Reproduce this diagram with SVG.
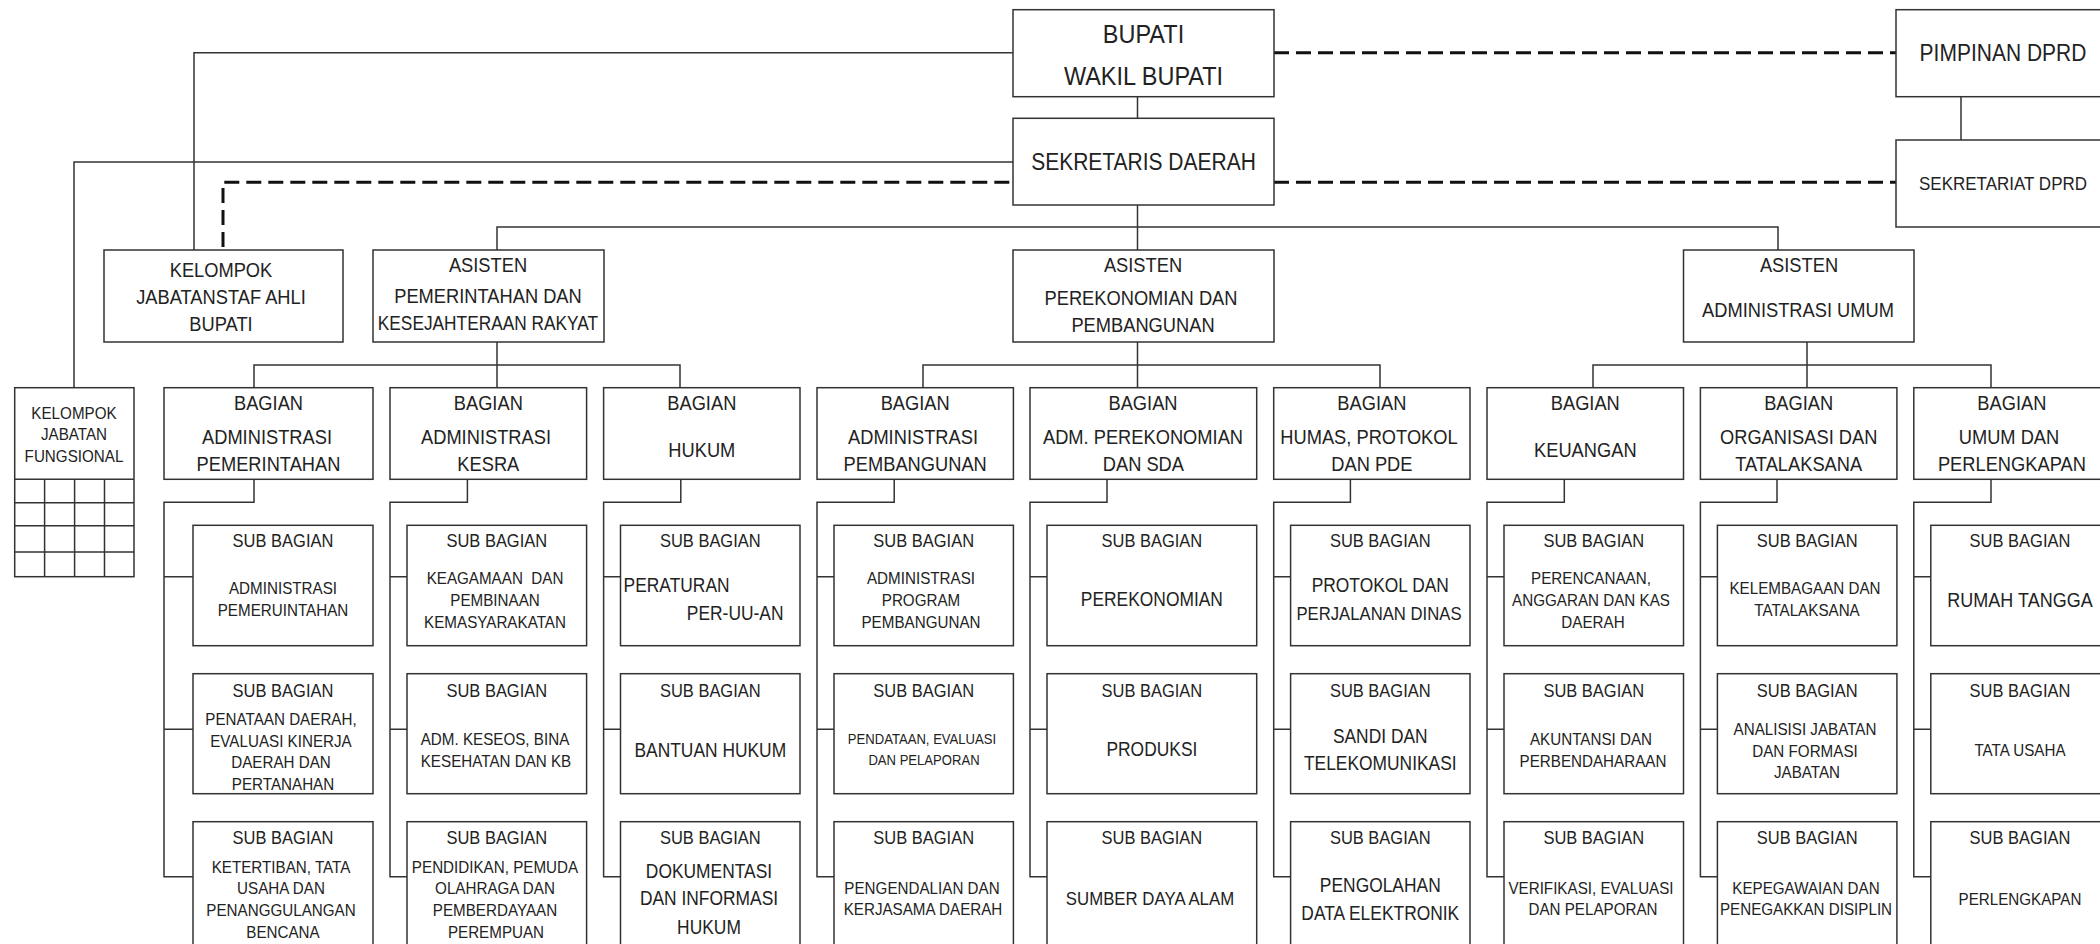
<svg xmlns="http://www.w3.org/2000/svg" width="2100" height="944" viewBox="0 0 2100 944">
<style>
.box{fill:#fff;stroke:#333;stroke-width:1.5}
.ln{fill:none;stroke:#333;stroke-width:1.5}
.dash{fill:none;stroke:#111;stroke-width:3;stroke-dasharray:15 7}
text{font-family:"Liberation Sans",Arial,sans-serif;fill:#222;text-anchor:middle;transform-box:fill-box;transform-origin:50% 50%;transform:scaleY(1.12)}
.f24{font-size:23.5px}.f21{font-size:21px}.f18{font-size:18.3px}.f17{font-size:17.4px}.f16{font-size:16.5px}.f15{font-size:15.2px}.f13{font-size:13.1px}
.st{text-anchor:start}.en{text-anchor:end}
</style>
<rect width="2100" height="944" fill="#fff"/>
<g id="connectors">
<path class="ln" d="M194 250V52.7H1013"/>
<path class="ln" d="M74 387.7V162H1013"/>
<path class="ln" d="M1137.5 96.7V118.3"/>
<path class="ln" d="M1137.5 205V250"/>
<path class="ln" d="M497 250V227H1778V250"/>
<path class="ln" d="M1961 96.7V140"/>
<path class="dash" d="M223 247V182.3H1013"/>
<path class="dash" d="M1274 182.3H1896"/>
<path class="dash" d="M1274 52.7H1896"/>
<path class="ln" d="M497 342V387.7M254 387.7V365H680V387.7"/>
<path class="ln" d="M1137.5 342V387.7M923 387.7V365H1380V387.7"/>
<path class="ln" d="M1807 342V387.7M1593 387.7V365H1991V387.7"/>
<path class="ln" d="M254 479.3V502.3H164V876.7H193M164 576.7H193M164 729.3H193"/>
<path class="ln" d="M467.4 479.3V502.3H390V876.7H407M390 576.7H407M390 729.3H407"/>
<path class="ln" d="M680.8 479.3V502.3H603.6V876.7H620.5M603.6 576.7H620.5M603.6 729.3H620.5"/>
<path class="ln" d="M894.2 479.3V502.3H817V876.7H834M817 576.7H834M817 729.3H834"/>
<path class="ln" d="M1107 479.3V502.3H1030V876.7H1047M1030 576.7H1047M1030 729.3H1047"/>
<path class="ln" d="M1350.4 479.3V502.3H1273.7V876.7H1290.6M1273.7 576.7H1290.6M1273.7 729.3H1290.6"/>
<path class="ln" d="M1564.3 479.3V502.3H1487V876.7H1504M1487 576.7H1504M1487 729.3H1504"/>
<path class="ln" d="M1777 479.3V502.3H1700.4V876.7H1717.4M1700.4 576.7H1717.4M1700.4 729.3H1717.4"/>
<path class="ln" d="M1991 479.3V502.3H1913.8V876.7H1930.8M1913.8 576.7H1930.8M1913.8 729.3H1930.8"/>
</g>

<g id="bupati"><rect class="box" x="1013" y="9.7" width="261" height="87"/>
<text class="f24" x="1143.5" y="41.5">BUPATI</text><text class="f24" x="1143.5" y="83.8">WAKIL BUPATI</text></g>
<g id="sekda"><rect class="box" x="1013" y="118.3" width="261" height="86.7"/>
<text class="f21" x="1143.5" y="169.6">SEKRETARIS DAERAH</text></g>
<g id="pimpinan-dprd"><rect class="box" x="1896" y="9.7" width="214" height="87"/>
<text class="f21" x="2003" y="60.4">PIMPINAN DPRD</text></g>
<g id="sekretariat-dprd"><rect class="box" x="1896" y="140" width="214" height="87"/>
<text x="2003" y="189.8" style="font-size:17px">SEKRETARIAT DPRD</text></g>

<g id="staf-ahli"><rect class="box" x="104" y="250" width="239" height="92"/>
<text class="f18" x="221" y="275.8">KELOMPOK</text><text class="f18" x="221" y="303.2">JABATANSTAF AHLI</text><text class="f18" x="221" y="329.8">BUPATI</text></g>
<g id="asisten-pem"><rect class="box" x="373" y="250" width="231" height="92"/>
<text class="f18" x="488" y="271.5">ASISTEN</text><text class="f18" x="488" y="302.5">PEMERINTAHAN DAN</text><text x="488" y="329.5" style="font-size:17.3px">KESEJAHTERAAN RAKYAT</text></g>
<g id="asisten-perek"><rect class="box" x="1013" y="250" width="261" height="92"/>
<text class="f18" x="1143" y="271.5">ASISTEN</text><text class="f18" x="1141" y="304.2">PEREKONOMIAN DAN</text><text class="f18" x="1143" y="331.5">PEMBANGUNAN</text></g>
<g id="asisten-umum"><rect class="box" x="1683.5" y="250" width="230.5" height="92"/>
<text class="f18" x="1799" y="271.5">ASISTEN</text><text class="f18" x="1798" y="316.5">ADMINISTRASI UMUM</text></g>

<g id="jabatan-fungsional"><rect class="box" x="14.7" y="387.7" width="119.3" height="189"/>
<path class="ln" d="M14.7 479.3H134M14.7 502.7H134M14.7 525.7H134M14.7 552H134M44.6 479.3V576.7M74.6 479.3V576.7M104.5 479.3V576.7"/>
<text class="f15" x="74" y="418.2">KELOMPOK</text><text class="f15" x="74" y="439.5">JABATAN</text><text class="f15" x="74" y="461.5">FUNGSIONAL</text></g>

<g id="bagian-adm-pem"><rect class="box" x="164" y="387.7" width="209" height="91.6"/>
<text class="f18" x="268.5" y="409.6">BAGIAN</text><text class="f18" x="267" y="443.3">ADMINISTRASI</text><text class="f18" x="268.5" y="469.9">PEMERINTAHAN</text></g>
<g id="bagian-kesra"><rect class="box" x="390" y="387.7" width="196.6" height="91.6"/>
<text class="f18" x="488.3" y="409.6">BAGIAN</text><text class="f18" x="486" y="443.3">ADMINISTRASI</text><text class="f18" x="488.3" y="469.9">KESRA</text></g>
<g id="bagian-hukum"><rect class="box" x="603.6" y="387.7" width="196.4" height="91.6"/>
<text class="f18" x="701.8" y="409.6">BAGIAN</text><text class="f18" x="701.8" y="456.6">HUKUM</text></g>
<g id="bagian-pembangunan"><rect class="box" x="817" y="387.7" width="196.4" height="91.6"/>
<text class="f18" x="915.2" y="409.6">BAGIAN</text><text class="f18" x="913" y="443.3">ADMINISTRASI</text><text class="f18" x="915.2" y="469.9">PEMBANGUNAN</text></g>
<g id="bagian-perekonomian"><rect class="box" x="1030" y="387.7" width="226.7" height="91.6"/>
<text class="f18" x="1143" y="409.6">BAGIAN</text><text class="f18" x="1143" y="443.3">ADM. PEREKONOMIAN</text><text class="f18" x="1143.4" y="469.9">DAN SDA</text></g>
<g id="bagian-humas"><rect class="box" x="1273.7" y="387.7" width="196.3" height="91.6"/>
<text class="f18" x="1371.9" y="409.6">BAGIAN</text><text class="f18" x="1369" y="443.3">HUMAS, PROTOKOL</text><text class="f18" x="1371.9" y="469.9">DAN PDE</text></g>
<g id="bagian-keuangan"><rect class="box" x="1487" y="387.7" width="196.5" height="91.6"/>
<text class="f18" x="1585.3" y="409.6">BAGIAN</text><text class="f18" x="1585.3" y="456.6">KEUANGAN</text></g>
<g id="bagian-organisasi"><rect class="box" x="1700.4" y="387.7" width="196.5" height="91.6"/>
<text class="f18" x="1798.7" y="409.6">BAGIAN</text><text class="f18" x="1798.7" y="443.3">ORGANISASI DAN</text><text class="f18" x="1798.7" y="469.9">TATALAKSANA</text></g>
<g id="bagian-umum"><rect class="box" x="1913.8" y="387.7" width="196.2" height="91.6"/>
<text class="f18" x="2011.9" y="409.6">BAGIAN</text><text class="f18" x="2009" y="443.3">UMUM DAN</text><text class="f18" x="2011.9" y="469.9">PERLENGKAPAN</text></g>

<g id="sub-adm-pem-1"><rect class="box" x="193" y="525.3" width="180" height="120.4"/>
<text class="f16" x="283" y="545.9">SUB BAGIAN</text><text class="f15" x="283" y="593.8">ADMINISTRASI</text><text class="f15" x="283" y="615.5">PEMERUINTAHAN</text></g>
<g id="sub-adm-pem-2"><rect class="box" x="193" y="673.7" width="180" height="120"/>
<text class="f16" x="283" y="695.9">SUB BAGIAN</text><text class="f15" x="281" y="724.8">PENATAAN DAERAH,</text><text class="f15" x="281" y="746.2">EVALUASI KINERJA</text><text class="f15" x="281" y="767.8">DAERAH DAN</text><text class="f15" x="283" y="789.5">PERTANAHAN</text></g>
<g id="sub-adm-pem-3"><rect class="box" x="193" y="821.7" width="180" height="125"/>
<text class="f16" x="283" y="843.2">SUB BAGIAN</text><text class="f15" x="281" y="872.2">KETERTIBAN, TATA</text><text class="f15" x="281" y="893.8">USAHA DAN</text><text class="f15" x="281" y="915.5">PENANGGULANGAN</text><text class="f15" x="283" y="937.2">BENCANA</text></g>

<g id="sub-kesra-1"><rect class="box" x="407" y="525.3" width="179.6" height="120.4"/>
<text class="f16" x="496.8" y="545.9">SUB BAGIAN</text><text class="f15" x="495" y="583.8" xml:space="preserve">KEAGAMAAN  DAN</text><text class="f15" x="495" y="605.5">PEMBINAAN</text><text class="f15" x="495" y="627.2">KEMASYARAKATAN</text></g>
<g id="sub-kesra-2"><rect class="box" x="407" y="673.7" width="179.6" height="120"/>
<text class="f16" x="496.8" y="695.9">SUB BAGIAN</text><text class="f15" x="495" y="744.8">ADM. KESEOS, BINA</text><text class="f15" x="496" y="766.2">KESEHATAN DAN KB</text></g>
<g id="sub-kesra-3"><rect class="box" x="407" y="821.7" width="179.6" height="125"/>
<text class="f16" x="496.8" y="843.2">SUB BAGIAN</text><text class="f15" x="495" y="872.2">PENDIDIKAN, PEMUDA</text><text class="f15" x="495" y="893.8">OLAHRAGA DAN</text><text class="f15" x="495" y="915.5">PEMBERDAYAAN</text><text class="f15" x="496" y="937.2">PEREMPUAN</text></g>

<g id="sub-hukum-1"><rect class="box" x="620.5" y="525.3" width="179.5" height="120.4"/>
<text class="f16" x="710.3" y="545.9">SUB BAGIAN</text><text class="f17 st" x="623.6" y="591.3">PERATURAN</text><text class="f17 en" x="783.5" y="619">PER-UU-AN</text></g>
<g id="sub-hukum-2"><rect class="box" x="620.5" y="673.7" width="179.5" height="120"/>
<text class="f16" x="710.3" y="695.9">SUB BAGIAN</text><text class="f17" x="710.3" y="756.3">BANTUAN HUKUM</text></g>
<g id="sub-hukum-3"><rect class="box" x="620.5" y="821.7" width="179.5" height="125"/>
<text class="f16" x="710.3" y="843.2">SUB BAGIAN</text><text class="f17" x="709" y="877">DOKUMENTASI</text><text class="f17" x="709" y="904.6">DAN INFORMASI</text><text class="f17" x="709" y="933">HUKUM</text></g>

<g id="sub-pembangunan-1"><rect class="box" x="834" y="525.3" width="179.4" height="120.4"/>
<text class="f16" x="923.7" y="545.9">SUB BAGIAN</text><text class="f15" x="921" y="583.8">ADMINISTRASI</text><text class="f15" x="921" y="605.5">PROGRAM</text><text class="f15" x="921" y="627.2">PEMBANGUNAN</text></g>
<g id="sub-pembangunan-2"><rect class="box" x="834" y="673.7" width="179.4" height="120"/>
<text class="f16" x="923.7" y="695.9">SUB BAGIAN</text><text class="f13" x="922" y="743.4">PENDATAAN, EVALUASI</text><text class="f13" x="924" y="764.7">DAN PELAPORAN</text></g>
<g id="sub-pembangunan-3"><rect class="box" x="834" y="821.7" width="179.4" height="125"/>
<text class="f16" x="923.7" y="843.2">SUB BAGIAN</text><text class="f15" x="922" y="893.8">PENGENDALIAN DAN</text><text class="f15" x="923" y="914.8">KERJASAMA DAERAH</text></g>

<g id="sub-perekonomian-1"><rect class="box" x="1047" y="525.3" width="209.7" height="120.4"/>
<text class="f16" x="1151.9" y="545.9">SUB BAGIAN</text><text class="f17" x="1151.9" y="605.5">PEREKONOMIAN</text></g>
<g id="sub-perekonomian-2"><rect class="box" x="1047" y="673.7" width="209.7" height="120"/>
<text class="f16" x="1151.9" y="695.9">SUB BAGIAN</text><text class="f17" x="1151.9" y="755.5">PRODUKSI</text></g>
<g id="sub-perekonomian-3"><rect class="box" x="1047" y="821.7" width="209.7" height="125"/>
<text class="f16" x="1151.9" y="843.2">SUB BAGIAN</text><text x="1150" y="904.3" style="font-size:16.8px">SUMBER DAYA ALAM</text></g>

<g id="sub-humas-1"><rect class="box" x="1290.6" y="525.3" width="179.4" height="120.4"/>
<text class="f16" x="1380.3" y="545.9">SUB BAGIAN</text><text class="f17" x="1380.3" y="591.3">PROTOKOL DAN</text><text x="1379" y="619" style="font-size:16.7px">PERJALANAN DINAS</text></g>
<g id="sub-humas-2"><rect class="box" x="1290.6" y="673.7" width="179.4" height="120"/>
<text class="f16" x="1380.3" y="695.9">SUB BAGIAN</text><text class="f17" x="1380.3" y="742.3">SANDI DAN</text><text class="f17" x="1380.3" y="769.6">TELEKOMUNIKASI</text></g>
<g id="sub-humas-3"><rect class="box" x="1290.6" y="821.7" width="179.4" height="125"/>
<text class="f16" x="1380.3" y="843.2">SUB BAGIAN</text><text class="f17" x="1380.3" y="891.3">PENGOLAHAN</text><text class="f17" x="1380.3" y="919">DATA ELEKTRONIK</text></g>

<g id="sub-keuangan-1"><rect class="box" x="1504" y="525.3" width="179.5" height="120.4"/>
<text class="f16" x="1593.8" y="545.9">SUB BAGIAN</text><text class="f15" x="1591" y="583.8">PERENCANAAN,</text><text class="f15" x="1591" y="605.5">ANGGARAN DAN KAS</text><text class="f15" x="1593" y="627.2">DAERAH</text></g>
<g id="sub-keuangan-2"><rect class="box" x="1504" y="673.7" width="179.5" height="120"/>
<text class="f16" x="1593.8" y="695.9">SUB BAGIAN</text><text class="f15" x="1591" y="744.8">AKUNTANSI DAN</text><text class="f15" x="1593" y="766.2">PERBENDAHARAAN</text></g>
<g id="sub-keuangan-3"><rect class="box" x="1504" y="821.7" width="179.5" height="125"/>
<text class="f16" x="1593.8" y="843.2">SUB BAGIAN</text><text class="f15" x="1591" y="893.8">VERIFIKASI, EVALUASI</text><text class="f15" x="1593" y="914.8">DAN PELAPORAN</text></g>

<g id="sub-organisasi-1"><rect class="box" x="1717.4" y="525.3" width="179.5" height="120.4"/>
<text class="f16" x="1807.2" y="545.9">SUB BAGIAN</text><text class="f15" x="1805" y="593.8">KELEMBAGAAN DAN</text><text class="f15" x="1807" y="615.5">TATALAKSANA</text></g>
<g id="sub-organisasi-2"><rect class="box" x="1717.4" y="673.7" width="179.5" height="120"/>
<text class="f16" x="1807.2" y="695.9">SUB BAGIAN</text><text class="f15" x="1805" y="734.8">ANALISISI JABATAN</text><text class="f15" x="1805" y="756.2">DAN FORMASI</text><text class="f15" x="1807" y="777.5">JABATAN</text></g>
<g id="sub-organisasi-3"><rect class="box" x="1717.4" y="821.7" width="179.5" height="125"/>
<text class="f16" x="1807.2" y="843.2">SUB BAGIAN</text><text class="f15" x="1806" y="893.8">KEPEGAWAIAN DAN</text><text class="f15" x="1806" y="914.8">PENEGAKKAN DISIPLIN</text></g>

<g id="sub-umum-1"><rect class="box" x="1930.8" y="525.3" width="179.2" height="120.4"/>
<text class="f16" x="2020" y="545.9">SUB BAGIAN</text><text x="2020" y="606.5" style="font-size:18px">RUMAH TANGGA</text></g>
<g id="sub-umum-2"><rect class="box" x="1930.8" y="673.7" width="179.2" height="120"/>
<text class="f16" x="2020" y="695.9">SUB BAGIAN</text><text class="f15" x="2020" y="755.5">TATA USAHA</text></g>
<g id="sub-umum-3"><rect class="box" x="1930.8" y="821.7" width="179.2" height="125"/>
<text class="f16" x="2020" y="843.2">SUB BAGIAN</text><text class="f15" x="2020" y="904.8">PERLENGKAPAN</text></g>
</svg>
